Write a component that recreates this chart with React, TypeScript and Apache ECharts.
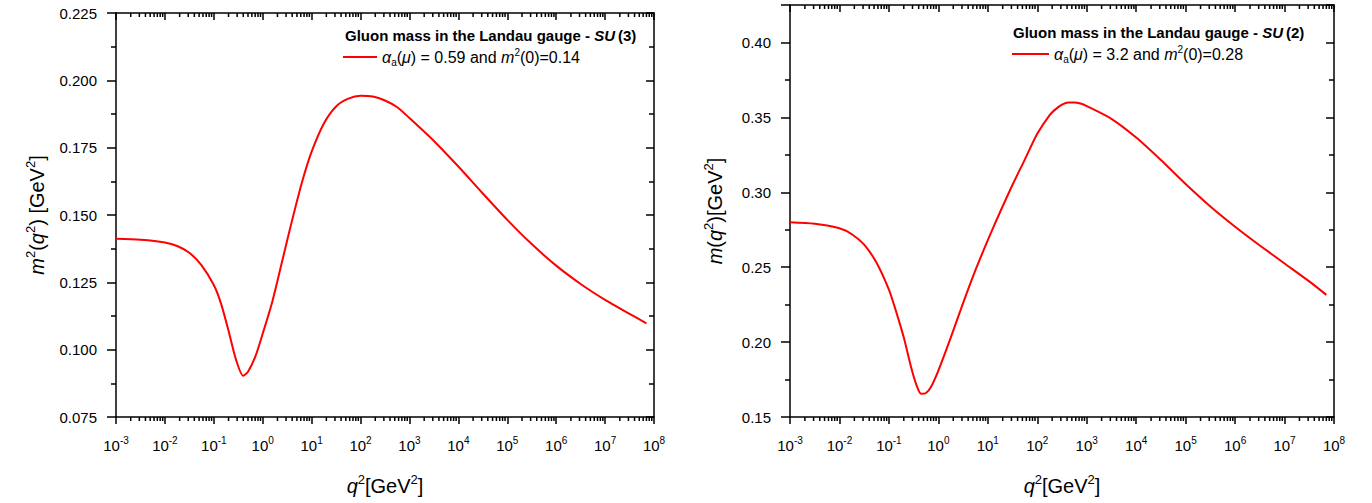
import React, { useEffect, useRef } from 'react';
import * as echarts from 'echarts';

// ---- data ----
const su3Q2 = [0.001, 0.00316, 0.01, 0.0178, 0.0316, 0.0562, 0.1, 0.141, 0.2, 0.282, 0.398, 0.5, 0.708, 1, 1.58, 2.51, 3.98, 6.31, 10, 17.8, 31.6, 56.2, 100, 178, 316, 562, 1000, 3160, 1e4, 3.16e4, 1e5, 3.16e5, 1e6, 3.16e6, 1e7, 3.16e7, 7e7];
const su3Mass = [0.1412, 0.1408, 0.1398, 0.1385, 0.136, 0.1313, 0.124, 0.117, 0.107, 0.0965, 0.0903, 0.0918, 0.0975, 0.106, 0.118, 0.133, 0.148, 0.162, 0.1735, 0.184, 0.1903, 0.1932, 0.1943, 0.194, 0.1925, 0.19, 0.186, 0.1775, 0.168, 0.158, 0.1482, 0.1392, 0.1312, 0.1244, 0.1185, 0.1133, 0.1098];

const su2Q2 = [0.001, 0.00316, 0.01, 0.0178, 0.0316, 0.0562, 0.1, 0.141, 0.2, 0.282, 0.355, 0.447, 0.562, 0.708, 1, 1.78, 3.16, 5.62, 10, 17.8, 31.6, 56.2, 100, 178, 237, 316, 422, 562, 750, 1000, 3160, 1e4, 3.16e4, 1e5, 3.16e5, 1e6, 3.16e6, 1e7, 3.16e7, 7e7];
const su2Mass = [0.28, 0.279, 0.276, 0.272, 0.265, 0.253, 0.235, 0.22, 0.203, 0.183, 0.172, 0.1655, 0.166, 0.17, 0.181, 0.203, 0.226, 0.248, 0.268, 0.287, 0.305, 0.322, 0.339, 0.3515, 0.3555, 0.3585, 0.36, 0.36, 0.3592, 0.3575, 0.349, 0.3365, 0.3215, 0.3055, 0.2905, 0.277, 0.2645, 0.2525, 0.2405, 0.2315];

const decadeExponents = [-3, -2, -1, 0, 1, 2, 3, 4, 5, 6, 7];
const minorMultipliers = [2, 3, 4, 5, 6, 7, 8, 9];

const su3Name = 'α_a(μ) = 0.59 and m²(0)=0.14';
const su2Name = 'α_a(μ) = 3.2 and m²(0)=0.28';
const su3Title = '{b|Gluon mass in the Landau gauge - }{bi|SU}{b|(3)}';
const su2Title = '{b|Gluon mass in the Landau gauge - }{bi|SU}{b|(2)}';
const su3LegendRich = '{gi|α}{sub|a}{n|(}{gi|μ}{n|) = 0.59 and }{i|m}{sup|2}{n|(0)=0.14}';
const su2LegendRich = '{gi|α}{sub|a}{n|(}{gi|μ}{n|) = 3.2 and }{i|m}{sup|2}{n|(0)=0.28}';
const su3YName = '{i|m}{sup|2}{n|(}{i|q}{sup|2}{n|) [GeV}{sup|2}{n|]}';
const su2YName = '{i|m}{n|(}{i|q}{sup|2}{n|)[GeV}{sup|2}{n|]}';
const xName = '{i|q}{sup|2}{n|[GeV}{sup|2}{n|]}';

const FONT = '"Liberation Sans", Arial, Helvetica, sans-serif';
const RED = '#ff0000';

const minorQ: number[] = [];
decadeExponents.forEach((n) => minorMultipliers.forEach((k) => minorQ.push(k * Math.pow(10, n))));

const tickRich = {
  b: { fontFamily: FONT, fontSize: 15, color: '#000', lineHeight: 20 },
  s: { fontFamily: FONT, fontSize: 10, color: '#000', lineHeight: 10, verticalAlign: 'top' },
};

const nameRich = {
  n: { fontFamily: FONT, fontSize: 20, color: '#000', lineHeight: 26 },
  i: { fontFamily: FONT, fontSize: 20, fontStyle: 'italic', color: '#000', lineHeight: 26 },
  sup: { fontFamily: FONT, fontSize: 13, color: '#000', lineHeight: 13, verticalAlign: 'top' },
};

const legendRich = {
  n: { fontFamily: FONT, fontSize: 16, color: '#000', lineHeight: 20 },
  i: { fontFamily: FONT, fontSize: 16, fontStyle: 'italic', color: '#000', lineHeight: 20 },
  gi: { fontFamily: FONT, fontSize: 16, fontStyle: 'italic', color: '#000', lineHeight: 20 },
  sup: { fontFamily: FONT, fontSize: 10, color: '#000', lineHeight: 10, verticalAlign: 'top' },
  sub: { fontFamily: FONT, fontSize: 10, color: '#000', lineHeight: 10, verticalAlign: 'bottom' },
};

const titleRich = {
  b: { fontFamily: FONT, fontSize: 15, fontWeight: 'bold', color: '#000', lineHeight: 18 },
  bi: { fontFamily: FONT, fontSize: 15, fontWeight: 'bold', fontStyle: 'italic', color: '#000', lineHeight: 18, padding: [0, 3, 0, 0] },
};

const axisLine = { show: true, lineStyle: { color: '#000', width: 1.5 } };

function expLabel(v: number) {
  const e = Math.round(Math.log10(v));
  return `{b|10}{s|${e}}`;
}

function xAxes(gridIndex: number) {
  const base = {
    gridIndex,
    type: 'log',
    logBase: 10,
    min: 1e-3,
    max: 1e8,
    interval: 1,
    splitNumber: 11,
    splitLine: { show: false },
    axisLine,
  };
  return [
    {
      ...base,
      position: 'bottom',
      axisTick: { show: true, inside: false, length: 7, interval: 0, lineStyle: { color: '#000', width: 1.5 } },
      axisLabel: { show: true, formatter: expLabel, rich: tickRich, margin: 18, interval: 0, hideOverlap: false },
      name: xName,
      nameLocation: 'middle',
      nameGap: 56,
      nameTextStyle: { rich: nameRich },
    },
    {
      ...base,
      position: 'top',
      axisTick: { show: true, inside: true, length: 7, interval: 0, lineStyle: { color: '#000', width: 1.5 } },
      axisLabel: { show: false },
    },
  ];
}

function yAxes(gridIndex: number, min: number, max: number, interval: number, decimals: number, name: string, nameGap: number) {
  const base = {
    gridIndex,
    type: 'value',
    min,
    max,
    interval,
    splitLine: { show: false },
    minorSplitLine: { show: false },
    axisLine,
  };
  return [
    {
      ...base,
      position: 'left',
      axisTick: { show: true, inside: false, length: 9, lineStyle: { color: '#000', width: 1.5 } },
      minorTick: { show: true, splitNumber: 2, length: 5, lineStyle: { color: '#000', width: 1.5 } },
      axisLabel: {
        show: true,
        formatter: (v: number) => v.toFixed(decimals),
        fontFamily: FONT,
        fontSize: 15,
        color: '#000',
        margin: 19,
        showMaxLabel: max === 0.425 ? false : true,
      },
      name,
      nameLocation: 'middle',
      nameGap,
      nameTextStyle: { rich: nameRich },
    },
    {
      ...base,
      position: 'right',
      axisTick: { show: true, inside: true, length: 8, lineStyle: { color: '#000', width: 1.5 } },
      minorTick: { show: true, splitNumber: 2, length: 5, lineStyle: { color: '#000', width: 1.5 } },
      axisLabel: { show: false },
    },
  ];
}

function minorTickSeries(axisIndex: number, yMin: number) {
  return {
    type: 'custom',
    xAxisIndex: axisIndex,
    yAxisIndex: axisIndex,
    clip: false,
    silent: true,
    z: 5,
    encode: { x: 0, y: 1 },
    data: minorQ.map((q) => [q, yMin]),
    renderItem: (params: any, api: any) => {
      const cs = params.coordSys;
      const px = api.coord([api.value(0), api.value(1)])[0];
      const bottom = cs.y + cs.height;
      const top = cs.y;
      return {
        type: 'group',
        children: [
          { type: 'line', shape: { x1: px, y1: bottom, x2: px, y2: bottom + 4 }, style: { stroke: '#000', lineWidth: 1.5 } },
          { type: 'line', shape: { x1: px, y1: top, x2: px, y2: top + 4 }, style: { stroke: '#000', lineWidth: 1.5 } },
        ],
      };
    },
  };
}

export default function App() {
  const ref = useRef<HTMLDivElement>(null);
  useEffect(() => {
    if (!ref.current) return;
    const chart = echarts.init(ref.current, undefined, { renderer: 'svg' });
    const option: any = {
      animation: false,
      backgroundColor: '#fff',
      grid: [
        { left: 116, top: 13, width: 538, height: 404 },
        { left: 790, top: 5, width: 544, height: 412 },
      ],
      title: [
        { text: su3Title, left: 345, top: 26, padding: 0, textStyle: { rich: titleRich } },
        { text: su2Title, left: 1013, top: 23, padding: 0, textStyle: { rich: titleRich } },
      ],
      legend: [
        {
          data: [{ name: su3Name, icon: 'rect' }],
          left: 343,
          top: 47,
          padding: 0,
          itemWidth: 34,
          itemHeight: 2,
          formatter: () => su3LegendRich,
          textStyle: { rich: legendRich },
        },
        {
          data: [{ name: su2Name, icon: 'rect' }],
          left: 1012,
          top: 44,
          padding: 0,
          itemWidth: 37,
          itemHeight: 2,
          formatter: () => su2LegendRich,
          textStyle: { rich: legendRich },
        },
      ],
      xAxis: [...xAxes(0), ...xAxes(1)],
      yAxis: [
        ...yAxes(0, 0.075, 0.225, 0.025, 3, su3YName, 66),
        ...yAxes(1, 0.15, 0.425, 0.05, 2, su2YName, 62),
      ],
      series: [
        {
          name: su3Name,
          type: 'line',
          xAxisIndex: 0,
          yAxisIndex: 0,
          data: su3Q2.map((q, i) => [q, su3Mass[i]]),
          symbol: 'none',
          smooth: 0.25,
          lineStyle: { color: RED, width: 2 },
          itemStyle: { color: RED },
        },
        {
          name: su2Name,
          type: 'line',
          xAxisIndex: 2,
          yAxisIndex: 2,
          data: su2Q2.map((q, i) => [q, su2Mass[i]]),
          symbol: 'none',
          smooth: 0.25,
          lineStyle: { color: RED, width: 2 },
          itemStyle: { color: RED },
        },
        minorTickSeries(0, 0.075),
        minorTickSeries(2, 0.15),
      ],
    };
    chart.setOption(option);
    return () => chart.dispose();
  }, []);
  return <div ref={ref} style={{ position: 'fixed', left: 0, top: 0, width: 1372, height: 503, background: '#fff' }} />;
}
